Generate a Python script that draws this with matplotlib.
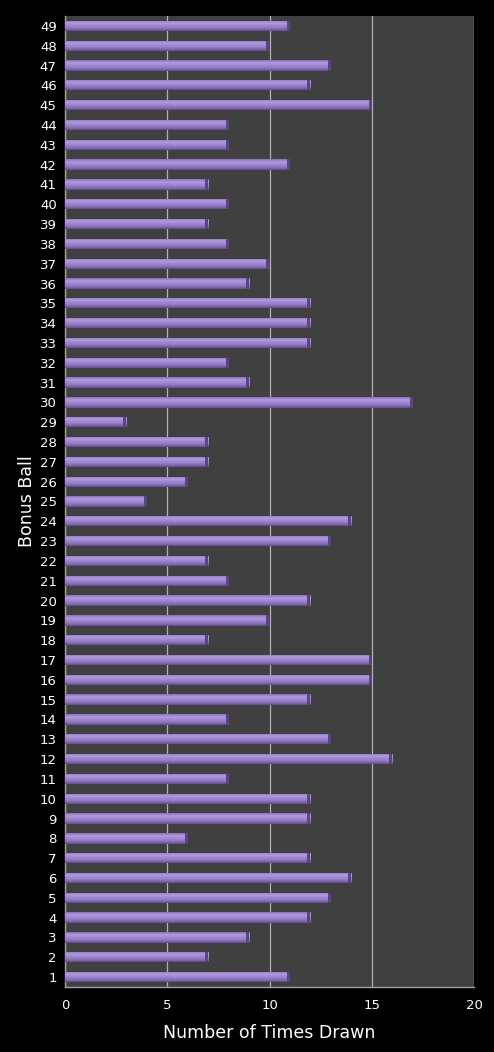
import numpy as np
import matplotlib
matplotlib.use('Agg')
import matplotlib.pyplot as plt
from matplotlib.colors import LinearSegmentedColormap

balls = list(range(1, 50))
times_drawn = [11, 7, 9, 12, 13, 14, 12, 6, 12, 12,
               8, 16, 13, 8, 12, 15, 15, 7, 10, 12,
               8, 7, 13, 14, 4, 6, 7, 7, 3, 17,
               9, 8, 12, 12, 12, 9, 10, 8, 7, 8,
               7, 11, 8, 8, 15, 12, 13, 10, 11]

fig = plt.figure(figsize=(4.94, 10.52), dpi=100, facecolor='black')
ax = fig.add_axes([0.1316, 0.0618, 0.8279, 0.923])
ax.set_facecolor('#404040')

bars = ax.barh(balls, times_drawn, height=0.52, color='#9a80c9', edgecolor='none', zorder=2)

# shaded bar look: light top edge, darker bottom edge
grad = LinearSegmentedColormap.from_list('bar', ['#634a8e', '#8f75bf', '#a088d2', '#b29ade', '#8a70b8'])
img = np.linspace(0, 1, 64).reshape(-1, 1)
for b in bars:
    x0, y0 = b.get_x(), b.get_y()
    w, h = b.get_width(), b.get_height()
    im = ax.imshow(img, cmap=grad, aspect='auto', origin='lower',
                   extent=(x0, x0 + w, y0, y0 + h), zorder=3)
    im.set_clip_path(b)
    # darker end cap
    ax.barh(y0 + h / 2, 0.15, left=x0 + w - 0.15, height=h, color='#5a4482', edgecolor='none', zorder=4)

ax.set_xlim(0, 20)
ax.set_ylim(0.5, 49.5)
ax.set_xticks([0, 5, 10, 15, 20])
ax.set_yticks(balls)
ax.set_yticklabels([str(b) for b in balls])
ax.xaxis.grid(True, color='#b0b0b0', linewidth=0.9, zorder=1)
ax.set_axisbelow(True)

ax.tick_params(axis='both', length=0, colors='white', labelsize=9.5, pad=6)
ax.tick_params(axis='x', pad=9)
for s in ['top', 'right']:
    ax.spines[s].set_visible(False)
for s in ['left', 'bottom']:
    ax.spines[s].set_color('#a0a0a0')
    ax.spines[s].set_linewidth(1)

ax.set_xlabel('Number of Times Drawn', color='white', fontsize=12.5, labelpad=8)
ax.set_ylabel('Bonus Ball', color='white', fontsize=12.5, labelpad=3)

fig.savefig('out.png', dpi=100, facecolor='black')
